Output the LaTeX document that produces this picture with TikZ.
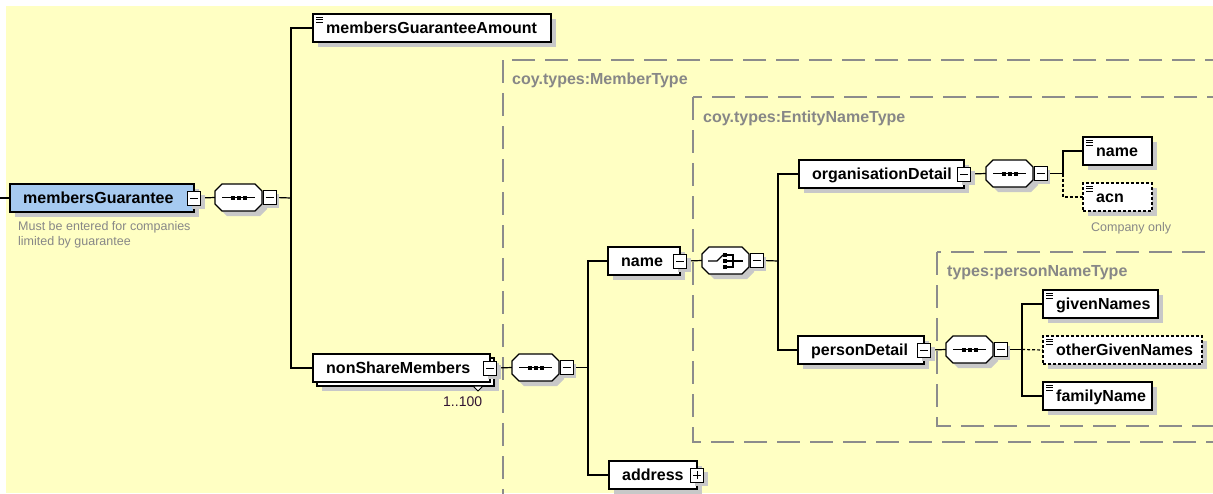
\documentclass[tikz,border=0pt]{standalone}
\usepackage{fontspec}
\setmainfont{Liberation Sans}
\usetikzlibrary{calc}
\definecolor{bgy}{RGB}{255,255,195}
\definecolor{blu}{RGB}{166,202,240}
\definecolor{shd}{RGB}{200,200,200}
\definecolor{tgray}{RGB}{135,135,135}
\definecolor{dgray}{RGB}{140,140,140}
\pgfdeclarelayer{back}
\pgfdeclarelayer{wires}
\pgfsetlayers{back,wires,main}
\tikzset{
 elem/.style={draw=black, line width=1.4pt, fill=white, rectangle, inner sep=0pt, outer sep=0pt, minimum height=28pt, anchor=north west},
 etext/.style={anchor=base west, inner sep=0pt, font=\fontsize{16}{18}\selectfont\bfseries},
 pmbox/.style={draw=black, line width=1pt, fill=white, rectangle, inner sep=0pt, outer sep=0pt, minimum width=13pt, minimum height=14pt},
 conn/.style={draw=black, line width=1.2pt},
 optconn/.style={conn, dash pattern=on 3pt off 2pt},
 optelem/.style={dash pattern=on 3pt off 2pt},
 typebox/.style={draw=dgray, line width=1.3pt, dash pattern=on 23pt off 10pt},
 typelabel/.style={anchor=base west, inner sep=0pt, text=tgray, font=\fontsize{16}{18}\selectfont\bfseries},
 note/.style={anchor=base west, inner sep=0pt, text=tgray, font=\fontsize{12.5}{15}\selectfont},
 comp/.style={inner sep=0pt, outer sep=0pt, minimum width=47pt, minimum height=27pt, anchor=north west},
}
% element box: name, x, y, width, text, extra style
\newcommand\xel[6]{%
  \fill[shd] (#2+5,#3+5) rectangle (#2+#4+5,#3+33);
  \node[elem, minimum width=#4pt, #6] (#1) at (#2,#3) {};
  \node[etext] (#1-t) at ($(#1.west)+(13,5.7)$) {#5};
}
% simple type icon
\newcommand\simp[1]{%
  \draw[line width=0.8pt] ($(#1.north west)+(3,3)$) -- +(7,0) ($(#1.north west)+(3,5.5)$) -- +(7,0) ($(#1.north west)+(3,8)$) -- +(7,0);
}
% minus box on east side
\newcommand\xminus[1]{%
  \fill[shd] ($(#1.east)+(-2.5,-3)$) rectangle +(13,14);
  \node[pmbox] (#1-m) at (#1.east) {};
  \draw[line width=1pt] ($(#1-m.center)+(-4,0)$) -- ($(#1-m.center)+(4,0)$);
}
\newcommand\xplus[1]{%
  \fill[shd] ($(#1.east)+(-2.5,-3)$) rectangle +(13,14);
  \node[pmbox] (#1-m) at (#1.east) {};
  \draw[line width=1pt] ($(#1-m.center)+(-4,0)$) -- ($(#1-m.center)+(4,0)$) ($(#1-m.center)+(0,-4)$) -- ($(#1-m.center)+(0,4)$);
}
% compositor octagon: name, x, y
\newcommand\xcomp[3]{%
  \fill[shd] (#2+12,#3+5) -- (#2+45,#3+5) -- (#2+52,#3+12) -- (#2+52,#3+25) -- (#2+45,#3+32) -- (#2+12,#3+32) -- (#2+5,#3+25) -- (#2+5,#3+12) -- cycle;
  \draw[line width=1.3pt, fill=white] (#2+7,#3) -- (#2+40,#3) -- (#2+47,#3+7) -- (#2+47,#3+20) -- (#2+40,#3+27) -- (#2+7,#3+27) -- (#2,#3+20) -- (#2,#3+7) -- cycle;
  \node[comp] (#1) at (#2,#3) {};
  \fill[shd] (#2+51,#3+10) rectangle +(13,14);
  \node[pmbox] (#1-m) at (#2+54.5,#3+13.5) {};
  \draw[line width=1pt] ($(#1-m.center)+(-4,0)$) -- ($(#1-m.center)+(4,0)$);
}
\newcommand\seqicon[2]{%
  \draw[line width=1.2pt] (#1+7,#2+13.5) -- (#1+40,#2+13.5);
  \fill (#1+15.5,#2+11.5) rectangle +(4,4);
  \fill (#1+21.5,#2+11.5) rectangle +(4,4);
  \fill (#1+27.5,#2+11.5) rectangle +(4,4);
}
\newcommand\choiceicon[2]{%
  \draw[line width=1.2pt] (#1+6,#2+14) -- (#1+15,#2+14) -- (#1+21,#2+8);
  \fill (#1+21,#2+6) rectangle +(4,4);
  \fill (#1+21,#2+12) rectangle +(4,4);
  \fill (#1+21,#2+18) rectangle +(4,4);
  \draw[line width=1.2pt] (#1+25,#2+8) -- (#1+31,#2+8) -- (#1+31,#2+20) -- (#1+25,#2+20);
  \draw[line width=1.2pt] (#1+25,#2+14) -- (#1+41,#2+14);
}
\begin{document}
\begin{tikzpicture}[x=1pt, y=-1pt]
\useasboundingbox (0,0) rectangle (1213,493);
\begin{pgfonlayer}{back}
\fill[white] (0,0) rectangle (1213,493);
\fill[bgy] (6,6) rectangle (1213,493);
\begin{scope}
\clip (0,0) rectangle (1213,493);
\draw[typebox] (503,60) rectangle (1260,540);
\draw[typebox] (693,97) rectangle (1260,442);
\draw[typebox] (937,252) rectangle (1260,426);
\end{scope}
\end{pgfonlayer}
\node[typelabel] (lbl1) at (512,84.5) {coy.types:MemberType};
\node[typelabel] (lbl2) at (703,122.5) {coy.types:EntityNameType};
\node[typelabel] (lbl3) at (947,276) {types:personNameType};

% junction coordinates
\coordinate (j1) at (291,198);
\coordinate (j2) at (588,367.5);
\coordinate (j3) at (778,261);
\coordinate (j4) at (1063,173.5);
\coordinate (j5) at (1022,349.5);
\coordinate (lstub) at (0,198);

% root
\xel{mg}{10}{184}{184}{membersGuarantee}{fill=blu}
\xminus{mg}
\node[note] (note1) at (18,230) {Must be entered for companies};
\node[note] (note2) at (18,245) {limited by guarantee};

\xcomp{seq1}{215}{184}
\seqicon{215}{184}

\xel{mga}{313}{14}{238}{membersGuaranteeAmount}{}
\simp{mga}

% nonShareMembers (stacked)
\fill[shd] (322,363) rectangle (499,391);
\node[elem, minimum width=177pt] (nsmback) at (317,358) {};
\draw[line width=1pt, fill=white] (473,386) -- (483,386) -- (478,391) -- cycle;
\node[elem, minimum width=177pt] (nsm) at (313,354) {};
\node[etext] (nsm-t) at ($(nsm.west)+(13,5.7)$) {nonShareMembers};
\xminus{nsm}
\node[anchor=base west, inner sep=0pt, font=\fontsize{14}{16}\selectfont, text={rgb,255:red,50;green,20;blue,50}] (occ) at (443,406) {1..100};

\xcomp{seq2}{512}{354}
\seqicon{512}{354}

\xel{name}{608}{247}{72}{name}{}
\xminus{name}
\xel{address}{609}{461}{88}{address}{}
\xplus{address}

\xcomp{choice}{702}{247}
\choiceicon{702}{247}

\xel{org}{799}{160}{165}{organisationDetail}{}
\xminus{org}
\xcomp{seq3}{986}{160}
\seqicon{986}{160}

\xel{name2}{1083}{137}{69}{name}{}
\simp{name2}
\xel{acn}{1083}{183}{69}{acn}{optelem}
\simp{acn}
\node[note] (note3) at (1091,231) {Company only};

\xel{pd}{798}{336}{126}{personDetail}{}
\xminus{pd}
\xcomp{seq4}{946}{336}
\seqicon{946}{336}

\xel{gn}{1043}{290}{115}{givenNames}{}
\simp{gn}
\xel{ogn}{1043}{336}{159}{otherGivenNames}{optelem}
\simp{ogn}
\xel{fn}{1043}{382}{109}{familyName}{}
\simp{fn}

% connectors
\begin{pgfonlayer}{wires}
\draw[conn] (lstub) -- (mg.west);
\draw[conn] (mg-m.east) -- (seq1.west);
\draw[conn] (seq1-m.east) -- (j1);
\draw[conn] (j1) |- (mga.west);
\draw[conn] (j1) |- (nsm.west);
\draw[conn] (nsm-m.east) -- (seq2.west);
\draw[conn] (seq2-m.east) -- (j2);
\draw[conn] (j2) |- (name.west);
\draw[conn] (j2) |- (address.west);
\draw[conn] (name-m.east) -- (choice.west);
\draw[conn] (choice-m.east) -- (j3);
\draw[conn] (j3) |- (org.west);
\draw[conn] (j3) |- (pd.west);
\draw[conn] (org-m.east) -- (seq3.west);
\draw[conn] (seq3-m.east) -- (j4);
\draw[conn] (j4) |- (name2.west);
\draw[optconn] (j4) |- (acn.west);
\draw[conn] (pd-m.east) -- (seq4.west);
\draw[conn] (seq4-m.east) -- (j5);
\draw[conn] (j5) |- (gn.west);
\draw[conn] (j5) |- (fn.west);
\draw[optconn] (j5) -- (ogn.west);
\end{pgfonlayer}
\end{tikzpicture}
\end{document}
